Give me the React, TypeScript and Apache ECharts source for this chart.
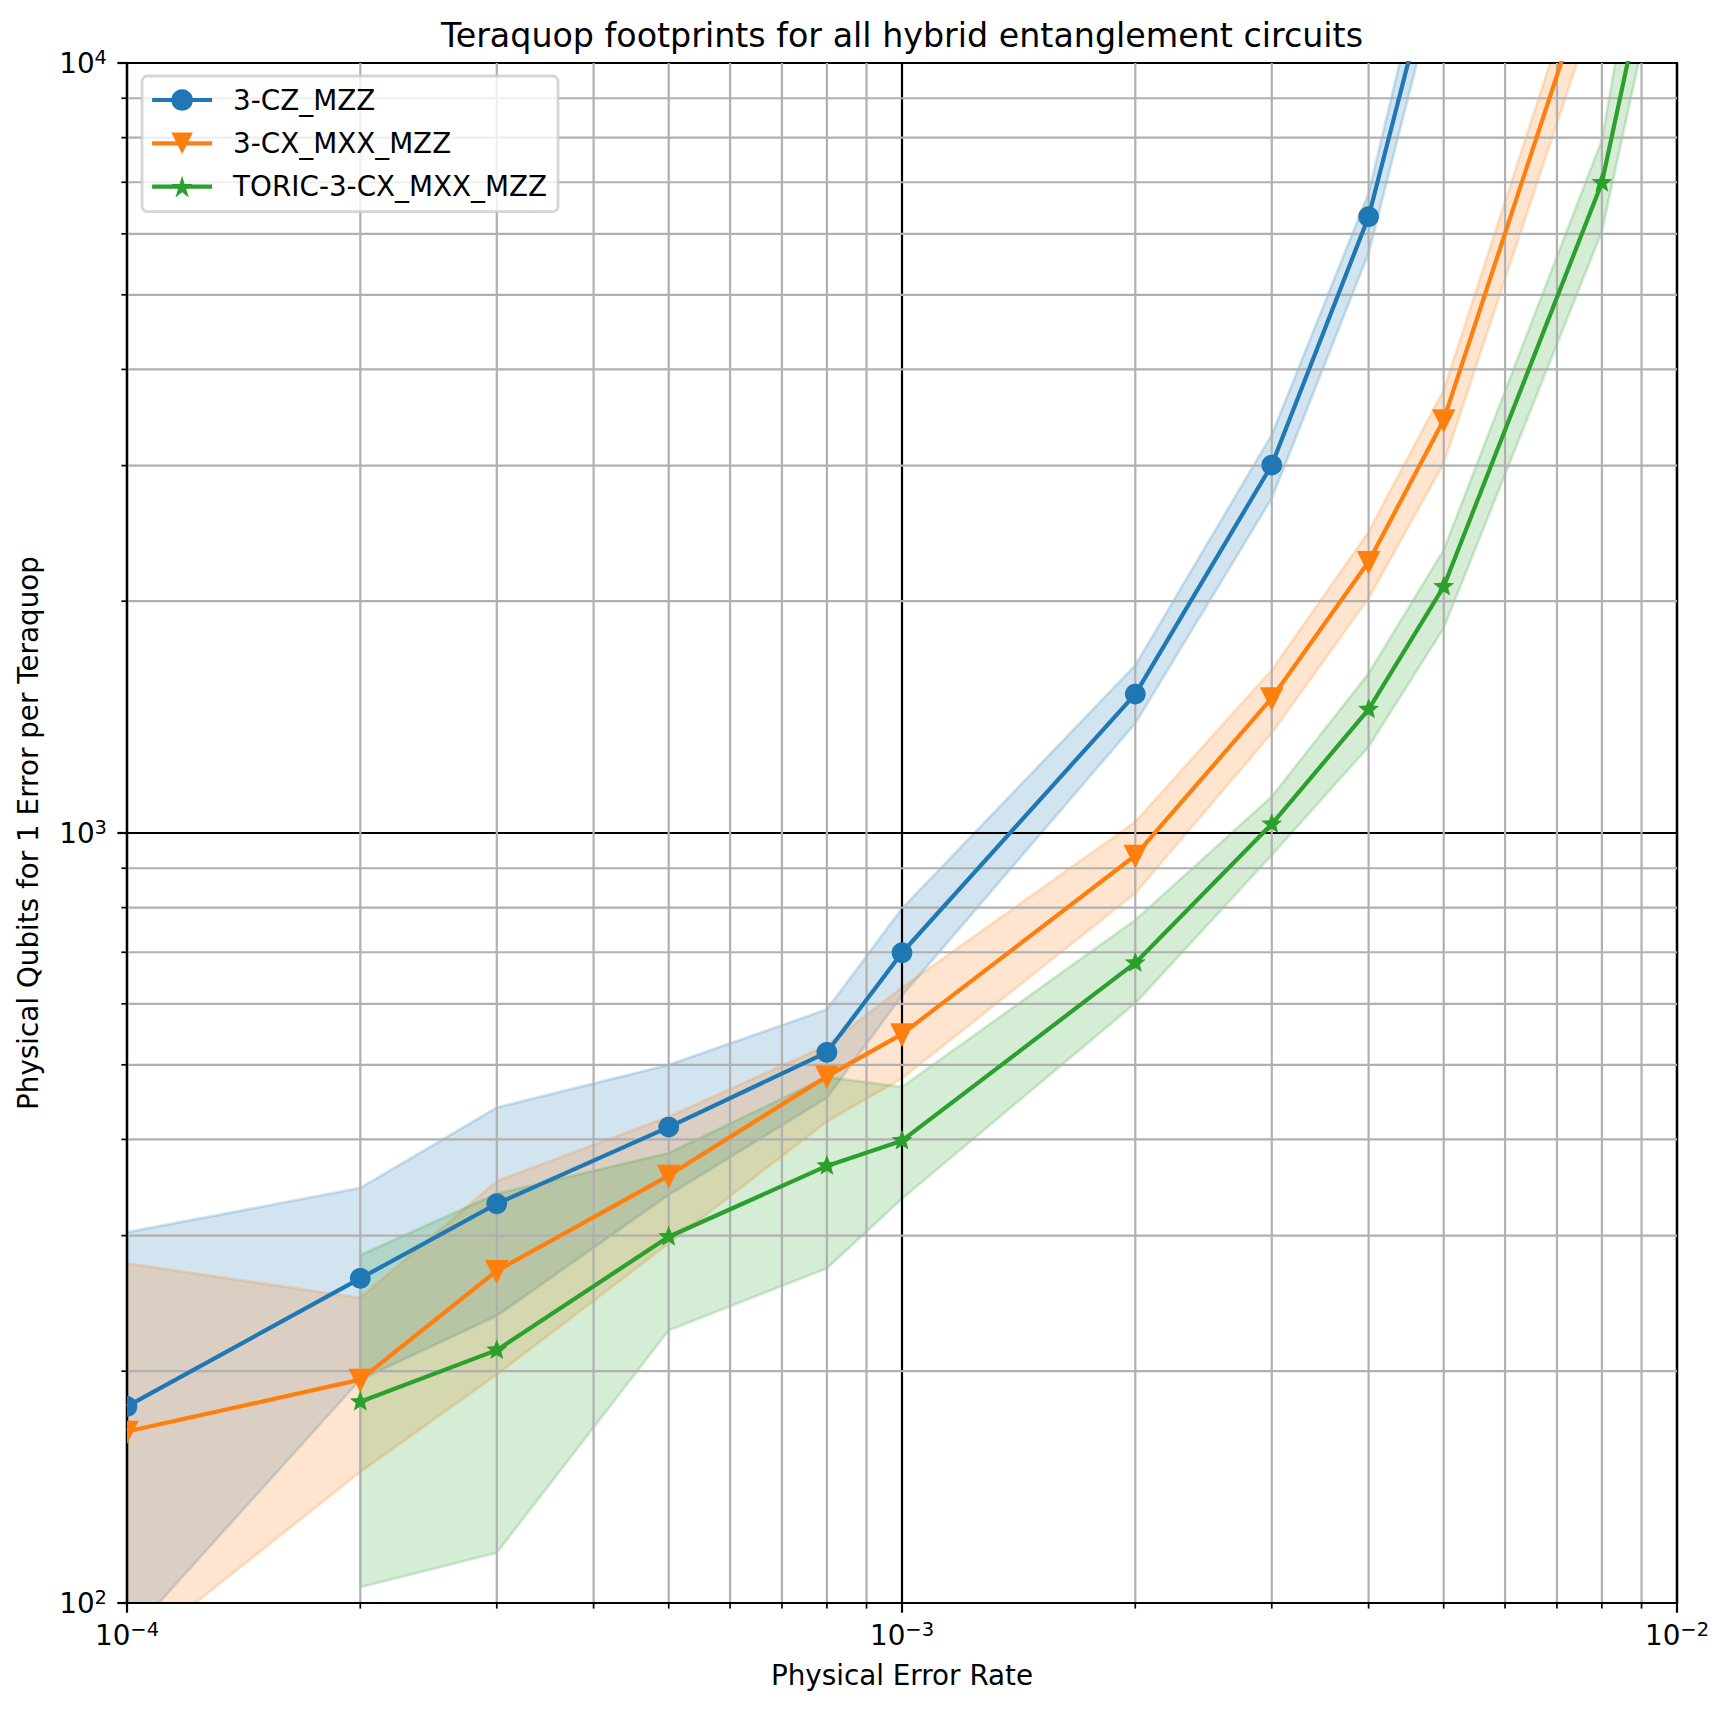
import React, { useEffect, useRef } from 'react';
import * as echarts from 'echarts';

const X_MIN = 1e-4;
const X_MAX = 1e-2;
const Y_MIN = 1e2;
const Y_MAX = 1e4;

// 3-CZ_MZZ
const czRates = [1e-4, 2e-4, 3e-4, 5e-4, 8e-4, 1e-3, 2e-3, 3e-3, 4e-3, 5e-3];
const czQubits = [180, 264, 330, 415, 519, 699, 1515, 3005, 6315, 15150];
const czHigh = [303, 346, 440, 500, 590, 798, 1652, 3290, 6775, 17400];
const czLow = [90, 195, 236, 339, 453, 615, 1388, 2720, 5660, 13700];

// 3-CX_MXX_MZZ
const cxRates = [1e-4, 2e-4, 3e-4, 5e-4, 8e-4, 1e-3, 2e-3, 3e-3, 4e-3, 5e-3, 8e-3];
const cxQubits = [167, 195, 270, 359, 483, 548, 935, 1497, 2250, 3439, 14500];
const cxHigh = [276, 249, 353, 428, 530, 630, 1034, 1628, 2462, 3761, 16100];
const cxLow = [85, 148, 198, 293, 422, 480, 835, 1348, 2018, 3020, 12500];

// TORIC-3-CX_MXX_MZZ
const toricRates = [2e-4, 3e-4, 5e-4, 8e-4, 1e-3, 2e-3, 3e-3, 4e-3, 5e-3, 8e-3, 1e-2];
const toricQubits = [182.5, 213, 299, 369.5, 398.5, 678, 1027, 1447, 2089, 6990, 19950];
const toricHigh = [283, 340, 384, 482, 468, 771, 1115, 1612, 2331, 7943, 29000];
const toricLow = [104.8, 116.2, 226, 272, 335, 601, 936, 1294, 1845, 6039, 17000];

const minorXTicks = [2e-4, 3e-4, 4e-4, 5e-4, 6e-4, 7e-4, 8e-4, 9e-4, 2e-3, 3e-3, 4e-3, 5e-3, 6e-3, 7e-3, 8e-3, 9e-3];
const minorYTicks = [200, 300, 400, 500, 600, 700, 800, 900, 2000, 3000, 4000, 5000, 6000, 7000, 8000, 9000];

const SERIES_NAMES = ['3-CZ_MZZ', '3-CX_MXX_MZZ', 'TORIC-3-CX_MXX_MZZ'];
const TITLE = 'Teraquop footprints for all hybrid entanglement circuits';
const X_LABEL = 'Physical Error Rate';
const Y_LABEL = 'Physical Qubits for 1 Error per Teraquop';

const BLUE = '#1f77b4';
const ORANGE = '#ff7f0e';
const GREEN = '#2ca02c';
const FONT = '"DejaVu Sans", sans-serif';
const STAR = 'path://M100,0L122.45,69.1L195.1,69.1L136.33,111.8L158.8,180.9L100,138.2L41.2,180.9L63.67,111.8L4.9,69.1L77.55,69.1Z';

const expLabel = (v: number) => {
  const e = Math.round(Math.log10(v));
  const s = e < 0 ? '\u2212' + Math.abs(e) : String(e);
  return `{b|10}{s|${s}}`;
};

const richTick = {
  b: { fontSize: 27.8, lineHeight: 32, fontFamily: FONT, color: '#000' },
  s: { fontSize: 19.5, height: 20.7, lineHeight: 20.7, verticalAlign: 'top', fontFamily: FONT, color: '#000' },
};

const rgba = (hex: string, a: number) => {
  const n = parseInt(hex.slice(1), 16);
  return `rgba(${(n >> 16) & 255},${(n >> 8) & 255},${n & 255},${a})`;
};

const bandSeries = (name: string, xs: number[], lo: number[], hi: number[], color: string) => ({
  type: 'custom',
  name,
  coordinateSystem: 'cartesian2d',
  clip: true,
  silent: true,
  z: 1,
  data: xs.map((x, i) => [x, lo[i], hi[i]]),
  encode: { x: 0, y: [1, 2] },
  renderItem: (params: any, api: any) => {
    if (params.dataIndex !== 0) return null;
    const upper = xs.map((x, i) => api.coord([x, hi[i]]));
    const lower = xs.map((x, i) => api.coord([x, lo[i]])).reverse();
    return {
      type: 'polygon',
      shape: { points: upper.concat(lower) },
      style: { fill: rgba(color, 0.2), stroke: rgba(color, 0.2), lineWidth: 2.8 },
    };
  },
});

const lineSeries = (name: string, xs: number[], ys: number[], color: string, symbol: string, extra: any = {}) => ({
  type: 'line',
  name,
  data: xs.map((x, i) => [x, ys[i]]),
  symbol,
  symbolSize: 21,
  showSymbol: false,
  clip: true,
  silent: true,
  z: 3,
  lineStyle: { color, width: 4.2, join: 'round', cap: 'butt' },
  itemStyle: { color, borderWidth: 0 },
  emphasis: { disabled: true },
  ...extra,
});

const markerSeries = (name: string, xs: number[], ys: number[], color: string, shape: string) => ({
  type: 'custom',
  name,
  coordinateSystem: 'cartesian2d',
  clip: true,
  silent: true,
  z: 3,
  data: xs.map((x, i) => [x, ys[i]]),
  encode: { x: 0, y: 1 },
  renderItem: (_p: any, api: any) => {
    const pt = api.coord([api.value(0), api.value(1)]);
    const cx = pt[0];
    const cy = pt[1];
    const style = { fill: color };
    if (shape === 'circle') return { type: 'circle', shape: { cx, cy, r: 10.4 }, style };
    if (shape === 'triangle') {
      return {
        type: 'polygon',
        shape: { points: [[cx - 11.8, cy - 10.8], [cx + 11.8, cy - 10.8], [cx, cy + 12.8]] },
        style,
      };
    }
    const R = 11;
    const pts: number[][] = [];
    for (let k = 0; k < 10; k++) {
      const a = -Math.PI / 2 + (k * Math.PI) / 5;
      const rr = k % 2 === 0 ? R : R * 0.43;
      pts.push([cx + rr * Math.cos(a), cy + rr * Math.sin(a)]);
    }
    return { type: 'polygon', shape: { points: pts }, style };
  },
});

const App: React.FC = () => {
  const ref = useRef<HTMLDivElement>(null);

  useEffect(() => {
    if (!ref.current) return;
    const chart = echarts.init(ref.current, undefined, { renderer: 'svg' });

    const minorXSeries = {
      type: 'custom',
      name: 'minor-x',
      coordinateSystem: 'cartesian2d',
      clip: false,
      silent: true,
      z: 1.5,
      data: minorXTicks.map((v) => [v, Y_MIN]),
      renderItem: (_p: any, api: any) => {
        const v = api.value(0);
        const top = api.coord([v, Y_MAX]);
        const bottom = api.coord([v, Y_MIN]);
        return {
          type: 'group',
          children: [
            { type: 'line', shape: { x1: top[0], y1: top[1], x2: bottom[0], y2: bottom[1] }, style: { stroke: '#b0b0b0', lineWidth: 2.2 } },
            { type: 'line', shape: { x1: bottom[0], y1: bottom[1], x2: bottom[0], y2: bottom[1] + 5.6 }, style: { stroke: '#000', lineWidth: 1.7 } },
          ],
        };
      },
    };

    const minorYSeries = {
      type: 'custom',
      name: 'minor-y',
      coordinateSystem: 'cartesian2d',
      clip: false,
      silent: true,
      z: 1.5,
      data: minorYTicks.map((v) => [X_MIN, v]),
      renderItem: (_p: any, api: any) => {
        const v = api.value(1);
        const left = api.coord([X_MIN, v]);
        const right = api.coord([X_MAX, v]);
        return {
          type: 'group',
          children: [
            { type: 'line', shape: { x1: left[0], y1: left[1], x2: right[0], y2: right[1] }, style: { stroke: '#b0b0b0', lineWidth: 2.2 } },
            { type: 'line', shape: { x1: left[0] - 5.6, y1: left[1], x2: left[0], y2: left[1] }, style: { stroke: '#000', lineWidth: 1.7 } },
          ],
        };
      },
    };

    const axisCommon = {
      type: 'log',
      logBase: 10,
      z: 1.5,
      axisLine: { show: true, onZero: false, lineStyle: { color: '#000', width: 2.2 } },
      axisTick: { show: true, inside: false, length: 9.7, lineStyle: { color: '#000', width: 2.2 } },
      splitLine: { show: true, lineStyle: { color: '#000', width: 2.2 } },
      minorTick: { show: false },
      minorSplitLine: { show: false },
    };

    const option: any = {
      animation: false,
      backgroundColor: '#ffffff',
      textStyle: { fontFamily: FONT },
      grid: {
        left: 127,
        top: 63,
        width: 1550,
        height: 1540,
        show: true,
        borderColor: '#000',
        borderWidth: 2.2,
        backgroundColor: 'transparent',
        containLabel: false,
        outerBoundsMode: 'none',
      },
      xAxis: {
        ...axisCommon,
        min: X_MIN,
        max: X_MAX,
        axisLabel: {
          show: true,
          margin: 16.4,
          showMinLabel: true,
          showMaxLabel: true,
          hideOverlap: false,
          formatter: expLabel,
          rich: richTick,
        },
      },
      yAxis: {
        ...axisCommon,
        min: Y_MIN,
        max: Y_MAX,
        axisLabel: {
          show: true,
          margin: 20,
          showMinLabel: true,
          showMaxLabel: true,
          hideOverlap: false,
          formatter: expLabel,
          rich: richTick,
        },
      },
      legend: {
        data: SERIES_NAMES,
        orient: 'vertical',
        left: 142,
        top: 76,
        padding: [8, 11, 9, 8],
        itemWidth: 60,
        itemHeight: 27,
        itemGap: 11.3,
        backgroundColor: 'rgba(255,255,255,0.8)',
        borderColor: 'rgba(204,204,204,0.8)',
        borderWidth: 2.8,
        borderRadius: 5.6,
        selectedMode: false,
        lineStyle: { width: 4.2 },
        itemStyle: { borderWidth: 0 },
        textStyle: { fontSize: 27.8, fontFamily: FONT, color: '#000', lineHeight: 32, padding: [0, 0, 0, 16] },
      },
      graphic: [
        {
          type: 'text',
          x: 902,
          y: 35.2,
          silent: true,
          style: { text: TITLE, fontSize: 33.3, fontFamily: FONT, fill: '#000', align: 'center', verticalAlign: 'middle', textAlign: 'center', textVerticalAlign: 'middle' },
        },
        {
          type: 'text',
          x: 902,
          y: 1675.4,
          silent: true,
          style: { text: X_LABEL, fontSize: 27.8, fontFamily: FONT, fill: '#000', align: 'center', verticalAlign: 'middle', textAlign: 'center', textVerticalAlign: 'middle' },
        },
        {
          type: 'text',
          x: 28.8,
          y: 833,
          rotation: Math.PI / 2,
          silent: true,
          style: { text: Y_LABEL, fontSize: 27.8, fontFamily: FONT, fill: '#000', align: 'center', verticalAlign: 'middle', textAlign: 'center', textVerticalAlign: 'middle' },
        },
      ],
      series: [
        bandSeries('band-cz', czRates, czLow, czHigh, BLUE),
        bandSeries('band-cx', cxRates, cxLow, cxHigh, ORANGE),
        bandSeries('band-toric', toricRates, toricLow, toricHigh, GREEN),
        minorXSeries,
        minorYSeries,
        lineSeries(SERIES_NAMES[0], czRates, czQubits, BLUE, 'circle'),
        markerSeries('markers-cz', czRates, czQubits, BLUE, 'circle'),
        lineSeries(SERIES_NAMES[1], cxRates, cxQubits, ORANGE, 'triangle', { symbolRotate: 180 }),
        markerSeries('markers-cx', cxRates, cxQubits, ORANGE, 'triangle'),
        lineSeries(SERIES_NAMES[2], toricRates, toricQubits, GREEN, STAR),
        markerSeries('markers-toric', toricRates, toricQubits, GREEN, 'star'),
      ],
    };

    chart.setOption(option);
    return () => {
      chart.dispose();
    };
  }, []);

  return <div ref={ref} style={{ position: 'absolute', left: 0, top: 0, width: 1729, height: 1711 }} />;
};

export default App;
